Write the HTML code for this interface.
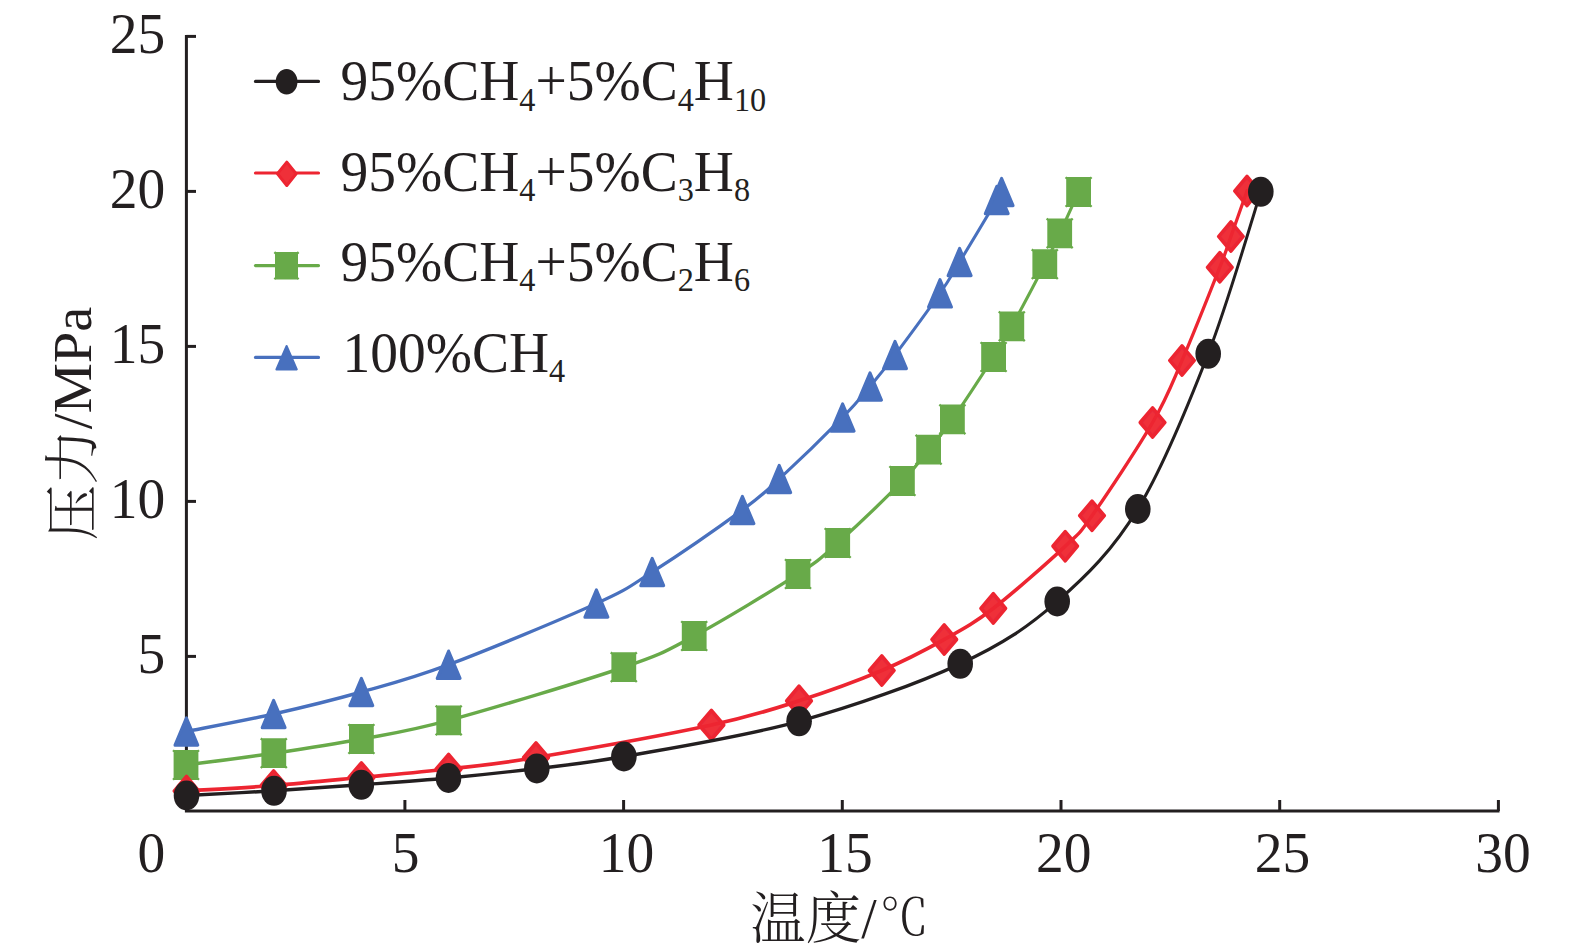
<!DOCTYPE html>
<html lang="zh"><head><meta charset="utf-8"><title>压力-温度</title>
<style>html,body{margin:0;padding:0;background:#fff}svg{display:block}text{font-family:"Liberation Serif","Noto Serif CJK SC",serif;fill:#231f20}.t{font-size:55.5px}.s{font-size:32.3px}.cj{font-family:"Noto Serif CJK SC","Liberation Serif",serif;font-weight:300}</style></head><body>
<svg width="1575" height="950" viewBox="0 0 1575 950">
<rect width="1575" height="950" fill="#fff"/>
<g stroke="#231f20" stroke-width="3" fill="none">
<path d="M186.4 34.9V811.0H1499.5"/>
<path d="M186.4 656.4H196"/>
<path d="M186.4 501.4H196"/>
<path d="M186.4 346.4H196"/>
<path d="M186.4 191.4H196"/>
<path d="M186.4 36.4H196"/>
<path d="M404.9 811.0V800"/>
<path d="M623.6 811.0V800"/>
<path d="M842.3 811.0V800"/>
<path d="M1061.0 811.0V800"/>
<path d="M1279.7 811.0V800"/>
<path d="M1498.4 811.0V800"/>
</g>
<text class="t" transform="translate(165.3 672.6) scale(1 1.045)" text-anchor="end">5</text>
<text class="t" transform="translate(165.3 517.6) scale(1 1.045)" text-anchor="end">10</text>
<text class="t" transform="translate(165.3 362.6) scale(1 1.045)" text-anchor="end">15</text>
<text class="t" transform="translate(165.3 207.6) scale(1 1.045)" text-anchor="end">20</text>
<text class="t" transform="translate(165.3 52.6) scale(1 1.045)" text-anchor="end">25</text>
<text class="t" transform="translate(165.3 872) scale(1 1.045)" text-anchor="end">0</text>
<text class="t" transform="translate(405.6 872) scale(1 1.045)" text-anchor="middle">5</text>
<text class="t" transform="translate(626.5 872) scale(1 1.045)" text-anchor="middle">10</text>
<text class="t" transform="translate(845.1 872) scale(1 1.045)" text-anchor="middle">15</text>
<text class="t" transform="translate(1063.8 872) scale(1 1.045)" text-anchor="middle">20</text>
<text class="t" transform="translate(1282.5 872) scale(1 1.045)" text-anchor="middle">25</text>
<text class="t" transform="translate(1502.9 872) scale(1 1.045)" text-anchor="middle">30</text>
<text class="t" transform="translate(750.3 937.5) scale(1 1.01)"><tspan class="cj">温度</tspan>/<tspan class="cj" dx="3" dy="-2.5" style="font-size:49px">℃</tspan></text>
<text class="t cj" transform="translate(91.8 540.3) rotate(-90)">压力</text>
<text class="t" transform="translate(90.6 429.3) rotate(-90) scale(1.02 1)">/MPa</text>
<g fill="none" stroke-linecap="round" stroke-linejoin="round" transform="scale(1 1.17)">
<path d="M186.40 625.21C200.93 622.72 244.43 615.88 273.60 610.26C302.77 604.63 332.23 598.48 361.40 591.45C390.57 584.43 409.43 580.73 448.60 568.12C487.77 555.51 562.47 529.02 596.40 515.81C630.33 502.61 627.87 502.21 652.20 488.89C676.53 475.57 721.23 449.15 742.40 435.90C763.57 422.65 762.50 422.58 779.20 409.40C795.90 396.23 827.47 370.01 842.60 356.84C857.73 343.66 861.27 339.25 870.00 330.34C878.73 321.44 883.33 316.70 895.00 303.42C906.67 290.14 929.23 263.93 940.00 250.68C950.77 237.44 950.13 237.22 959.60 223.93C969.07 210.64 989.80 180.91 996.80 170.94C1003.80 160.97 1000.80 165.24 1001.60 164.10" stroke="#4870be" stroke-width="2.9"/>
<path d="M186.00 653.85C200.63 652.17 244.57 647.46 273.80 643.76C303.03 640.06 332.25 636.30 361.40 631.62C390.55 626.95 404.97 625.95 448.70 615.73C492.43 605.50 582.88 582.28 623.80 570.26C664.72 558.23 665.17 556.87 694.20 543.59C723.23 530.31 774.08 503.85 798.00 490.60C821.92 477.35 820.30 477.35 837.70 464.10C855.10 450.85 887.25 424.40 902.40 411.11C917.55 397.82 920.27 393.15 928.60 384.36C936.93 375.57 941.57 371.58 952.40 358.38C963.23 345.17 983.70 318.38 993.60 305.13C1003.50 291.88 1003.27 292.11 1011.80 278.89C1020.33 265.67 1036.82 239.06 1044.80 225.81C1052.78 212.56 1054.07 209.69 1059.70 199.40C1065.33 189.12 1075.45 169.99 1078.60 164.10" stroke="#68aa49" stroke-width="3"/>
</g>
<g fill="#4870be" stroke="#4870be" stroke-width="3" stroke-linejoin="round">
<path d="M186.4 717.8L197.8 745.2H175.0Z"/>
<path d="M273.6 700.3L285.1 727.7H262.2Z"/>
<path d="M361.4 678.3L372.8 705.7H349.9Z"/>
<path d="M448.6 651.0L460.1 678.4H437.2Z"/>
<path d="M596.4 589.8L607.9 617.2H584.9Z"/>
<path d="M652.2 558.3L663.7 585.7H640.8Z"/>
<path d="M742.4 496.3L753.9 523.7H730.9Z"/>
<path d="M779.2 465.3L790.7 492.7H767.8Z"/>
<path d="M842.6 403.8L854.1 431.2H831.1Z"/>
<path d="M870.0 372.8L881.5 400.2H858.5Z"/>
<path d="M895.0 341.3L906.5 368.7H883.5Z"/>
<path d="M940.0 279.6L951.5 307.0H928.5Z"/>
<path d="M959.6 248.3L971.1 275.7H948.1Z"/>
<path d="M996.8 186.3L1008.2 213.7H985.3Z"/>
<path d="M1001.6 178.3L1013.1 205.7H990.1Z"/>
</g>
<g fill="#68aa49">
<path d="M173.6 750.1h24.8v29.8h-24.8zM173.8 749.4l1.6 1.6l-1.6 1.6l-1.6 -1.6zM173.8 777.4l1.6 1.6l-1.6 1.6l-1.6 -1.6zM198.2 749.4l1.6 1.6l-1.6 1.6l-1.6 -1.6zM198.2 777.4l1.6 1.6l-1.6 1.6l-1.6 -1.6z"/>
<path d="M261.4 738.3h24.8v29.8h-24.8zM261.6 737.6l1.6 1.6l-1.6 1.6l-1.6 -1.6zM261.6 765.6l1.6 1.6l-1.6 1.6l-1.6 -1.6zM286.0 737.6l1.6 1.6l-1.6 1.6l-1.6 -1.6zM286.0 765.6l1.6 1.6l-1.6 1.6l-1.6 -1.6z"/>
<path d="M349.0 724.1h24.8v29.8h-24.8zM349.2 723.4l1.6 1.6l-1.6 1.6l-1.6 -1.6zM349.2 751.4l1.6 1.6l-1.6 1.6l-1.6 -1.6zM373.6 723.4l1.6 1.6l-1.6 1.6l-1.6 -1.6zM373.6 751.4l1.6 1.6l-1.6 1.6l-1.6 -1.6z"/>
<path d="M436.3 705.5h24.8v29.8h-24.8zM436.5 704.8l1.6 1.6l-1.6 1.6l-1.6 -1.6zM436.5 732.8l1.6 1.6l-1.6 1.6l-1.6 -1.6zM460.9 704.8l1.6 1.6l-1.6 1.6l-1.6 -1.6zM460.9 732.8l1.6 1.6l-1.6 1.6l-1.6 -1.6z"/>
<path d="M611.4 652.3h24.8v29.8h-24.8zM611.6 651.6l1.6 1.6l-1.6 1.6l-1.6 -1.6zM611.6 679.6l1.6 1.6l-1.6 1.6l-1.6 -1.6zM636.0 651.6l1.6 1.6l-1.6 1.6l-1.6 -1.6zM636.0 679.6l1.6 1.6l-1.6 1.6l-1.6 -1.6z"/>
<path d="M681.8 621.1h24.8v29.8h-24.8zM682.0 620.4l1.6 1.6l-1.6 1.6l-1.6 -1.6zM682.0 648.4l1.6 1.6l-1.6 1.6l-1.6 -1.6zM706.4 620.4l1.6 1.6l-1.6 1.6l-1.6 -1.6zM706.4 648.4l1.6 1.6l-1.6 1.6l-1.6 -1.6z"/>
<path d="M785.6 559.1h24.8v29.8h-24.8zM785.8 558.4l1.6 1.6l-1.6 1.6l-1.6 -1.6zM785.8 586.4l1.6 1.6l-1.6 1.6l-1.6 -1.6zM810.2 558.4l1.6 1.6l-1.6 1.6l-1.6 -1.6zM810.2 586.4l1.6 1.6l-1.6 1.6l-1.6 -1.6z"/>
<path d="M825.3 528.1h24.8v29.8h-24.8zM825.5 527.4l1.6 1.6l-1.6 1.6l-1.6 -1.6zM825.5 555.4l1.6 1.6l-1.6 1.6l-1.6 -1.6zM849.9 527.4l1.6 1.6l-1.6 1.6l-1.6 -1.6zM849.9 555.4l1.6 1.6l-1.6 1.6l-1.6 -1.6z"/>
<path d="M890.0 466.1h24.8v29.8h-24.8zM890.2 465.4l1.6 1.6l-1.6 1.6l-1.6 -1.6zM890.2 493.4l1.6 1.6l-1.6 1.6l-1.6 -1.6zM914.6 465.4l1.6 1.6l-1.6 1.6l-1.6 -1.6zM914.6 493.4l1.6 1.6l-1.6 1.6l-1.6 -1.6z"/>
<path d="M916.2 434.8h24.8v29.8h-24.8zM916.4 434.1l1.6 1.6l-1.6 1.6l-1.6 -1.6zM916.4 462.1l1.6 1.6l-1.6 1.6l-1.6 -1.6zM940.8 434.1l1.6 1.6l-1.6 1.6l-1.6 -1.6zM940.8 462.1l1.6 1.6l-1.6 1.6l-1.6 -1.6z"/>
<path d="M940.0 404.4h24.8v29.8h-24.8zM940.2 403.7l1.6 1.6l-1.6 1.6l-1.6 -1.6zM940.2 431.7l1.6 1.6l-1.6 1.6l-1.6 -1.6zM964.6 403.7l1.6 1.6l-1.6 1.6l-1.6 -1.6zM964.6 431.7l1.6 1.6l-1.6 1.6l-1.6 -1.6z"/>
<path d="M981.2 342.1h24.8v29.8h-24.8zM981.4 341.4l1.6 1.6l-1.6 1.6l-1.6 -1.6zM981.4 369.4l1.6 1.6l-1.6 1.6l-1.6 -1.6zM1005.8 341.4l1.6 1.6l-1.6 1.6l-1.6 -1.6zM1005.8 369.4l1.6 1.6l-1.6 1.6l-1.6 -1.6z"/>
<path d="M999.4 311.4h24.8v29.8h-24.8zM999.6 310.7l1.6 1.6l-1.6 1.6l-1.6 -1.6zM999.6 338.7l1.6 1.6l-1.6 1.6l-1.6 -1.6zM1024.0 310.7l1.6 1.6l-1.6 1.6l-1.6 -1.6zM1024.0 338.7l1.6 1.6l-1.6 1.6l-1.6 -1.6z"/>
<path d="M1032.4 249.3h24.8v29.8h-24.8zM1032.6 248.6l1.6 1.6l-1.6 1.6l-1.6 -1.6zM1032.6 276.6l1.6 1.6l-1.6 1.6l-1.6 -1.6zM1057.0 248.6l1.6 1.6l-1.6 1.6l-1.6 -1.6zM1057.0 276.6l1.6 1.6l-1.6 1.6l-1.6 -1.6z"/>
<path d="M1047.3 218.4h24.8v29.8h-24.8zM1047.5 217.7l1.6 1.6l-1.6 1.6l-1.6 -1.6zM1047.5 245.7l1.6 1.6l-1.6 1.6l-1.6 -1.6zM1071.9 217.7l1.6 1.6l-1.6 1.6l-1.6 -1.6zM1071.9 245.7l1.6 1.6l-1.6 1.6l-1.6 -1.6z"/>
<path d="M1066.2 177.1h24.8v29.8h-24.8zM1066.4 176.4l1.6 1.6l-1.6 1.6l-1.6 -1.6zM1066.4 204.4l1.6 1.6l-1.6 1.6l-1.6 -1.6zM1090.8 176.4l1.6 1.6l-1.6 1.6l-1.6 -1.6zM1090.8 204.4l1.6 1.6l-1.6 1.6l-1.6 -1.6z"/>
</g>
<g fill="#ef3039" stroke="#ed2531" stroke-width="3.5" stroke-linejoin="round">
<path d="M186.5 776.3L198.8 791.0L186.5 805.7L174.2 791.0Z"/>
<path d="M273.6 770.8L286.0 785.5L273.6 800.2L261.2 785.5Z"/>
<path d="M361.4 762.8L373.8 777.5L361.4 792.2L349.0 777.5Z"/>
<path d="M448.6 754.3L461.0 769.0L448.6 783.7L436.2 769.0Z"/>
<path d="M536.0 742.8L548.4 757.5L536.0 772.2L523.6 757.5Z"/>
<path d="M711.4 710.3L723.8 725.0L711.4 739.7L699.0 725.0Z"/>
<path d="M799.0 686.1L811.4 700.8L799.0 715.5L786.6 700.8Z"/>
<path d="M881.8 655.8L894.1 670.5L881.8 685.2L869.4 670.5Z"/>
<path d="M944.2 624.8L956.6 639.5L944.2 654.2L931.9 639.5Z"/>
<path d="M993.3 593.7L1005.6 608.4L993.3 623.1L980.9 608.4Z"/>
<path d="M1065.2 531.5L1077.5 546.2L1065.2 560.9L1052.9 546.2Z"/>
<path d="M1092.0 501.0L1104.3 515.7L1092.0 530.4L1079.7 515.7Z"/>
<path d="M1152.6 407.8L1164.9 422.5L1152.6 437.2L1140.2 422.5Z"/>
<path d="M1182.0 345.8L1194.3 360.5L1182.0 375.2L1169.7 360.5Z"/>
<path d="M1219.8 252.6L1232.1 267.3L1219.8 282.0L1207.5 267.3Z"/>
<path d="M1230.9 221.8L1243.2 236.5L1230.9 251.2L1218.6 236.5Z"/>
<path d="M1247.0 176.3L1259.3 191.0L1247.0 205.7L1234.7 191.0Z"/>
</g>
<g fill="none" stroke="#d9254a" stroke-opacity=".55" stroke-width=".7">
<path d="M186.5 779.4L196.4 791.0L186.5 802.6L176.6 791.0Z"/>
<path d="M273.6 773.9L283.5 785.5L273.6 797.1L263.7 785.5Z"/>
<path d="M361.4 765.9L371.3 777.5L361.4 789.1L351.5 777.5Z"/>
<path d="M448.6 757.4L458.5 769.0L448.6 780.6L438.7 769.0Z"/>
<path d="M536.0 745.9L545.9 757.5L536.0 769.1L526.1 757.5Z"/>
<path d="M711.4 713.4L721.3 725.0L711.4 736.6L701.5 725.0Z"/>
<path d="M799.0 689.2L808.9 700.8L799.0 712.4L789.1 700.8Z"/>
<path d="M881.8 658.9L891.7 670.5L881.8 682.1L871.9 670.5Z"/>
<path d="M944.2 627.9L954.1 639.5L944.2 651.1L934.3 639.5Z"/>
<path d="M993.3 596.8L1003.2 608.4L993.3 620.0L983.4 608.4Z"/>
<path d="M1065.2 534.6L1075.1 546.2L1065.2 557.8L1055.3 546.2Z"/>
<path d="M1092.0 504.1L1101.9 515.7L1092.0 527.3L1082.1 515.7Z"/>
<path d="M1152.6 410.9L1162.5 422.5L1152.6 434.1L1142.7 422.5Z"/>
<path d="M1182.0 348.9L1191.9 360.5L1182.0 372.1L1172.1 360.5Z"/>
<path d="M1219.8 255.7L1229.7 267.3L1219.8 278.9L1209.9 267.3Z"/>
<path d="M1230.9 224.9L1240.8 236.5L1230.9 248.1L1221.0 236.5Z"/>
<path d="M1247.0 179.4L1256.9 191.0L1247.0 202.6L1237.1 191.0Z"/>
</g>
<g fill="none" stroke-linecap="round" transform="scale(1 1.17)">
<path d="M186.50 676.07C201.02 675.28 244.45 673.29 273.60 671.37C302.75 669.44 332.23 666.88 361.40 664.53C390.57 662.18 419.50 660.11 448.60 657.26C477.70 654.42 492.20 653.70 536.00 647.44C579.80 641.17 667.57 627.74 711.40 619.66C755.23 611.58 770.60 606.74 799.00 598.97C827.40 591.21 857.60 581.81 881.80 573.08C906.00 564.34 925.62 555.43 944.20 546.58C962.78 537.74 973.13 533.29 993.30 520.00C1013.47 506.71 1048.75 480.04 1065.20 466.84C1081.65 453.63 1077.43 458.39 1092.00 440.77C1106.57 423.15 1137.60 383.22 1152.60 361.11C1167.60 339.00 1170.80 330.23 1182.00 308.12C1193.20 286.01 1211.65 246.13 1219.80 228.46C1227.95 210.80 1226.37 213.01 1230.90 202.14C1235.43 191.27 1244.32 169.73 1247.00 163.25" stroke="#ed2531" stroke-width="3.2"/>
<path d="M186.50 679.91C201.08 679.25 244.87 677.42 274.00 675.90C303.13 674.37 332.22 672.59 361.30 670.77C390.38 668.95 419.25 667.28 448.50 664.96C477.75 662.64 507.57 659.90 536.80 656.84C566.03 653.77 580.18 653.30 623.90 646.58C667.62 639.86 743.05 629.70 799.10 616.50C855.15 603.29 917.18 584.42 960.20 567.35C1003.22 550.28 1027.60 536.15 1057.20 514.10C1086.80 492.05 1112.63 470.33 1137.80 435.04C1162.97 399.76 1187.70 347.58 1208.20 302.39C1228.70 257.21 1252.03 187.01 1260.80 163.93" stroke="#231f20" stroke-width="2.9"/>
</g>
<g fill="#231f20">
<ellipse cx="186.5" cy="795.5" rx="12.8" ry="15.0"/>
<ellipse cx="274.0" cy="790.8" rx="12.8" ry="15.0"/>
<ellipse cx="361.3" cy="784.8" rx="12.8" ry="15.0"/>
<ellipse cx="448.5" cy="778.0" rx="12.8" ry="15.0"/>
<ellipse cx="536.8" cy="768.5" rx="12.8" ry="15.0"/>
<ellipse cx="623.9" cy="756.5" rx="12.8" ry="15.0"/>
<ellipse cx="799.1" cy="721.3" rx="12.8" ry="15.0"/>
<ellipse cx="960.2" cy="663.8" rx="12.8" ry="15.0"/>
<ellipse cx="1057.2" cy="601.5" rx="12.8" ry="15.0"/>
<ellipse cx="1137.8" cy="509.0" rx="12.8" ry="15.0"/>
<ellipse cx="1208.2" cy="353.8" rx="12.8" ry="15.0"/>
<ellipse cx="1260.8" cy="191.8" rx="12.8" ry="15.0"/>
</g>
<g stroke-width="3.2" stroke-linecap="round" fill="none">
<path d="M255.5 81.4H318.5" stroke="#231f20"/>
<path d="M255.5 173.0H318.5" stroke="#ed2531"/>
<path d="M255.5 265.6H318.5" stroke="#68aa49"/>
<path d="M255.5 357.4H318.5" stroke="#4870be"/>
</g>
<g fill="#231f20"><ellipse cx="286.6" cy="81.8" rx="10.9" ry="12.8"/></g>
<g fill="#ef3039" stroke="#ed2531" stroke-width="3" stroke-linejoin="round"><path d="M286.8 162.1L296.1 173.8L286.8 185.5L277.5 173.8Z"/></g>
<g fill="#68aa49"><path d="M275.0 252.0h23.0v27.4h-23.0zM275.2 251.3l1.6 1.6l-1.6 1.6l-1.6 -1.6zM275.2 276.9l1.6 1.6l-1.6 1.6l-1.6 -1.6zM297.8 251.3l1.6 1.6l-1.6 1.6l-1.6 -1.6zM297.8 276.9l1.6 1.6l-1.6 1.6l-1.6 -1.6z"/></g>
<g fill="#4870be" stroke="#4870be" stroke-width="2" stroke-linejoin="round"><path d="M286.6 346.0L296.8 369.4H276.4Z"/></g>
<text class="t" transform="translate(340.5 100.3) scale(1 1.045)">95%CH<tspan class="s" dy="10">4</tspan><tspan dy="-10">+5%C</tspan><tspan class="s" dy="10">4</tspan><tspan dy="-10">H</tspan><tspan class="s" dy="10">10</tspan></text>
<text class="t" transform="translate(340.5 190.6) scale(1 1.045)">95%CH<tspan class="s" dy="10">4</tspan><tspan dy="-10">+5%C</tspan><tspan class="s" dy="10">3</tspan><tspan dy="-10">H</tspan><tspan class="s" dy="10">8</tspan></text>
<text class="t" transform="translate(340.5 281.0) scale(1 1.045)">95%CH<tspan class="s" dy="10">4</tspan><tspan dy="-10">+5%C</tspan><tspan class="s" dy="10">2</tspan><tspan dy="-10">H</tspan><tspan class="s" dy="10">6</tspan></text>
<text class="t" transform="translate(342.5 372.0) scale(1 1.045)">100%CH<tspan class="s" dy="10">4</tspan></text>
</svg></body></html>
